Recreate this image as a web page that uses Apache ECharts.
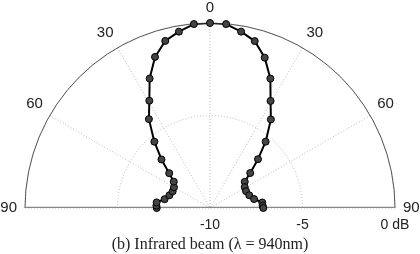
<!DOCTYPE html>
<html><head><meta charset="utf-8">
<script src="https://cdn.jsdelivr.net/npm/echarts@6/dist/echarts.min.js"></script>
<style>html,body{margin:0;padding:0;background:#fff}#c{width:420px;height:254px}</style>
</head><body><div id="c"></div>
<script>
// angles (deg, 0 = top, negative = left) and relative intensity (dB)
const angles = [-90, -87.5, -84, -79, -72.5, -66, -60, -54, -49.5, -45, -40, -34.5, -29.5, -25, -20, -15, -10, -5, 0,
                5, 10, 15, 20, 25, 29.5, 34.5, 40, 44.5, 49, 53, 59, 65, 72, 78.5, 84, 87.5, 90];
const dbValues = [-7.12, -7.10, -7.10, -7.50, -7.70, -7.79, -7.75, -7.58, -7.10, -6.29, -5.32, -4.17, -3.34, -2.28, -1.31, -0.65, -0.32, -0.02, 0.0,
                  -0.02, -0.32, -0.66, -1.35, -2.28, -3.35, -4.19, -5.32, -6.30, -7.12, -7.65, -7.81, -7.85, -7.77, -7.57, -7.16, -7.15, -7.12];
const angleTicks = [-90, -60, -30, 0, 30, 60, 90];
const radiusTicks = [-10, -5, 0];
const baseline = [[0, -90], [0, 90]];
const caption = '(b) Infrared beam (\u03bb = 940nm)';

const rMin = radiusTicks[0], rMax = radiusTicks[radiusTicks.length - 1];
const chart = echarts.init(document.getElementById('c'), null, {renderer: 'canvas'});
chart.setOption({
  animation: false,
  backgroundColor: '#fff',
  title: {
    text: caption, left: 'center', top: 232,
    textStyle: {fontFamily: 'Liberation Serif', fontWeight: 'normal', fontSize: 16, color: '#222'}
  },
  polar: [
    {center: [210, 208], radius: 185},
    {center: [210, 208], radius: 185}
  ],
  angleAxis: [
    {
      polarIndex: 0, type: 'value', min: -90, max: 90, interval: 30,
      startAngle: 180, endAngle: 0, clockwise: true,
      axisLine: {show: true, lineStyle: {color: '#555', width: 1}},
      axisTick: {show: false},
      axisLabel: {
        show: true, margin: 8, color: '#222', fontSize: 15, fontFamily: 'Liberation Sans',
        formatter: v => angleTicks.includes(v) ? String(Math.abs(v)) : ''
      },
      splitLine: {show: true, lineStyle: {color: '#bbb', type: [1, 2], width: 1}}
    },
    {
      polarIndex: 1, type: 'value', min: -90, max: 90, interval: 30,
      startAngle: 0, endAngle: 180, clockwise: false,
      axisLine: {show: false}, axisTick: {show: false}, axisLabel: {show: false}, splitLine: {show: false}
    }
  ],
  radiusAxis: [
    {
      polarIndex: 0, type: 'value', min: rMin, max: rMax, interval: 5,
      axisLine: {show: false}, axisTick: {show: false}, axisLabel: {show: false},
      splitLine: {show: true, lineStyle: {color: '#bbb', type: [1, 2], width: 1}}
    },
    {
      polarIndex: 1, type: 'value', min: rMin, max: rMax, interval: 5,
      axisLine: {show: false}, axisTick: {show: false}, splitLine: {show: false},
      axisLabel: {
        show: true, color: '#222', fontSize: 14, fontFamily: 'Liberation Sans',
        margin: -17, verticalAlign: 'middle',
        formatter: v => v === 0 ? '0 dB' : String(v)
      }
    }
  ],
  series: [
    {
      type: 'line', coordinateSystem: 'polar', polarIndex: 0, data: baseline, silent: true,
      symbol: 'none', lineStyle: {color: '#888', width: 2.5}, z: 1
    },
    {
      type: 'line', coordinateSystem: 'polar', polarIndex: 0,
      data: angles.map((a, i) => [dbValues[i], a]),
      symbol: 'circle', symbolSize: 7,
      lineStyle: {color: '#000', width: 2},
      itemStyle: {color: '#444', borderColor: '#000', borderWidth: 1},
      z: 3
    }
  ]
});
</script></body></html>
